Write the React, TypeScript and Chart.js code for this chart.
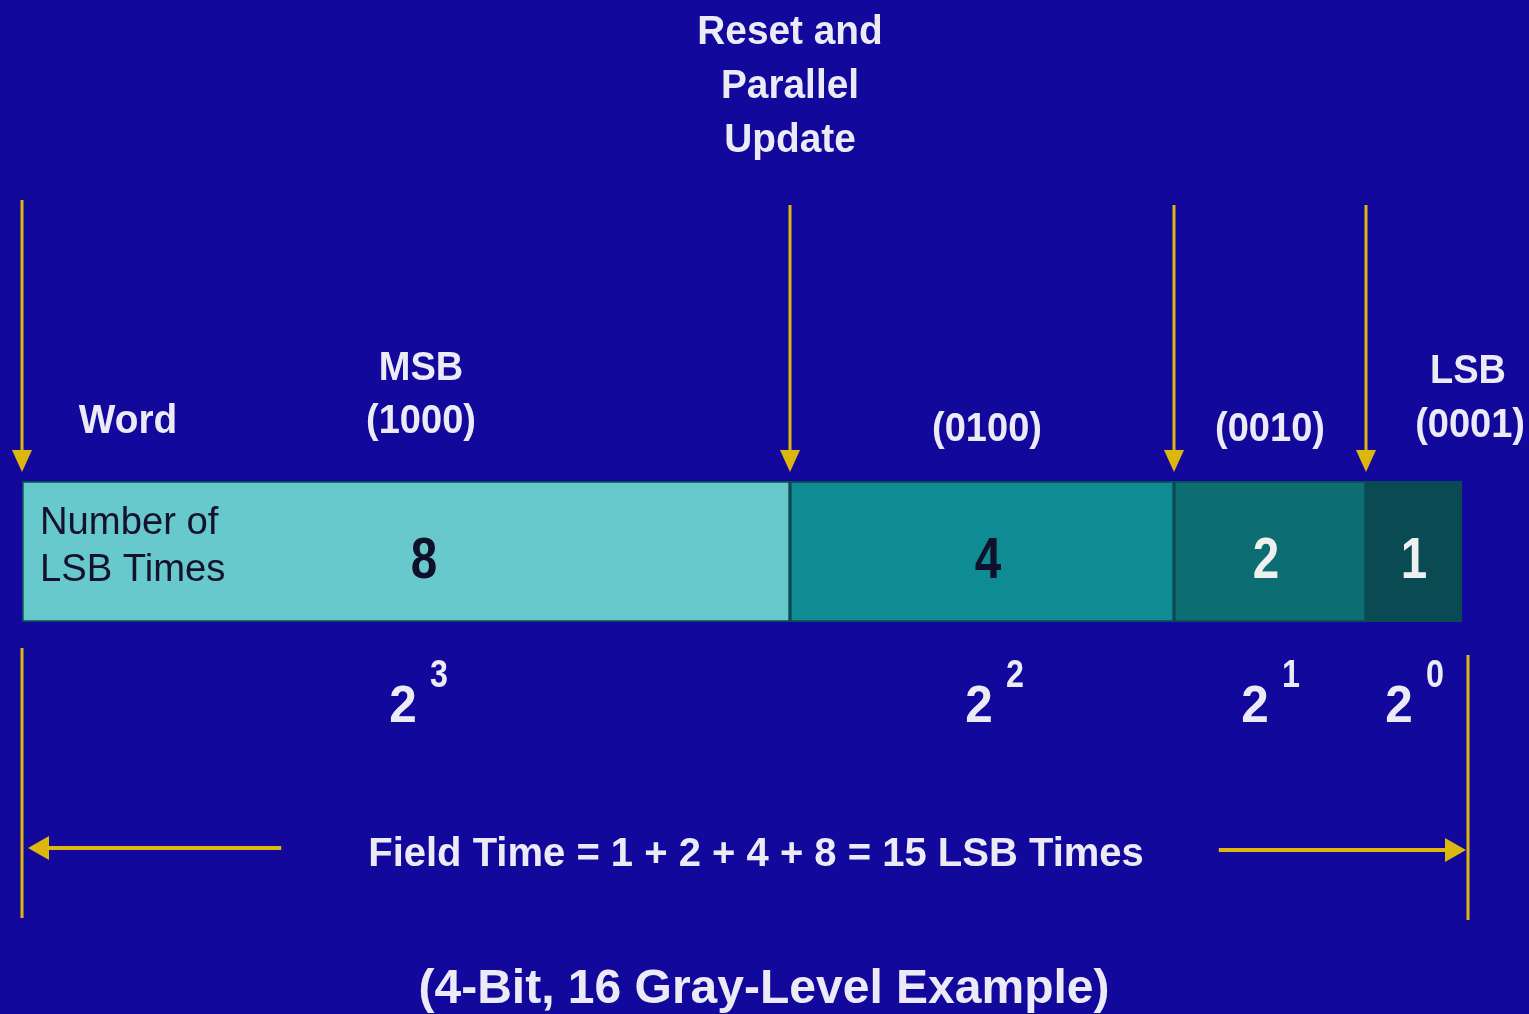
import React, { useEffect, useRef } from "react";
import { Chart, registerables } from "chart.js";

Chart.register(...registerables);

// ---- data ----
const bitWeights = [8, 4, 2, 1];
const bitCodes = ["(1000)", "(0100)", "(0010)", "(0001)"];
const bitTopLabels = ["MSB", "", "", "LSB"];
const bitBase = ["2", "2", "2", "2"];
const bitExponents = ["3", "2", "1", "0"];
const updateMarks = [0, 8, 12, 14];
const titleLines = ["Reset and", "Parallel", "Update"];
const wordLabel = "Word";
const rowLabelLines = ["Number of", "LSB Times"];
const fieldTimeText = "Field Time = 1 + 2 + 4 + 8 = 15 LSB Times";
const footerText = "(4-Bit, 16 Gray-Level Example)";

// ---- styles ----
const W = 1529;
const H = 1014;
const BG = "#13089c";
const segmentColors = ["#68c9cd", "#0f8b93", "#0c6e72", "#0a4a52"];
const valueTextColors = ["#10102a", "#10102a", "#eef0f0", "#eef0f0"];
const ARROW = "#dcb70e";
const WHITE = "#ecebf5";
const FONT = '"Liberation Sans", Arial, Helvetica, sans-serif';

function drawText(
  ctx: CanvasRenderingContext2D,
  text: string,
  x: number,
  y: number,
  font: string,
  color: string,
  align: CanvasTextAlign = "center",
  sx = 1
) {
  ctx.save();
  ctx.font = font;
  ctx.fillStyle = color;
  ctx.textAlign = align;
  ctx.textBaseline = "alphabetic";
  ctx.translate(x, y);
  ctx.scale(sx, 1);
  ctx.fillText(text, 0, 0);
  ctx.restore();
}

function arrowDown(ctx: CanvasRenderingContext2D, x: number, y0: number, tip: number) {
  ctx.save();
  ctx.strokeStyle = ARROW;
  ctx.fillStyle = ARROW;
  ctx.lineWidth = 3;
  ctx.beginPath();
  ctx.moveTo(x, y0);
  ctx.lineTo(x, tip - 18);
  ctx.stroke();
  ctx.beginPath();
  ctx.moveTo(x - 10, tip - 22);
  ctx.lineTo(x + 10, tip - 22);
  ctx.lineTo(x, tip);
  ctx.closePath();
  ctx.fill();
  ctx.restore();
}

function arrowH(ctx: CanvasRenderingContext2D, x0: number, tip: number, y: number) {
  const dir = tip > x0 ? 1 : -1;
  ctx.save();
  ctx.strokeStyle = ARROW;
  ctx.fillStyle = ARROW;
  ctx.lineWidth = 4;
  ctx.beginPath();
  ctx.moveTo(x0, y);
  ctx.lineTo(tip - dir * 18, y);
  ctx.stroke();
  ctx.beginPath();
  ctx.moveTo(tip - dir * 21, y - 12);
  ctx.lineTo(tip - dir * 21, y + 12);
  ctx.lineTo(tip, y);
  ctx.closePath();
  ctx.fill();
  ctx.restore();
}

function vLine(ctx: CanvasRenderingContext2D, x: number, y0: number, y1: number) {
  ctx.save();
  ctx.strokeStyle = ARROW;
  ctx.lineWidth = 3;
  ctx.beginPath();
  ctx.moveTo(x, y0);
  ctx.lineTo(x, y1);
  ctx.stroke();
  ctx.restore();
}

const bgPlugin = {
  id: "bg",
  beforeDraw(chart: any) {
    const ctx = chart.ctx;
    ctx.save();
    ctx.fillStyle = BG;
    ctx.fillRect(0, 0, chart.width, chart.height);
    ctx.restore();
  },
};

const annotPlugin = {
  id: "annot",
  afterDraw(chart: any) {
    const ctx: CanvasRenderingContext2D = chart.ctx;
    const xs = chart.scales.x;
    const { top, bottom } = chart.chartArea;
    const total = bitWeights.reduce((a, b) => a + b, 0);
    const starts: number[] = [];
    let acc = 0;
    bitWeights.forEach((w) => {
      starts.push(acc);
      acc += w;
    });
    const centers = bitWeights.map((w, i) => xs.getPixelForValue(starts[i] + w / 2));
    const x0 = xs.getPixelForValue(0);
    const xEnd = xs.getPixelForValue(total);
    const bold = (s: number) => `bold ${s}px ${FONT}`;

    // Title above first update mark
    const tx = xs.getPixelForValue(bitWeights[0]);
    titleLines.forEach((t, i) => drawText(ctx, t, tx, 44 + i * 54, bold(40), WHITE, "center", 0.97));

    // Down arrows at update marks
    updateMarks.forEach((m, i) => {
      arrowDown(ctx, xs.getPixelForValue(m), i === 0 ? top - 281 : top - 276, top - 9);
    });

    // Word
    drawText(ctx, wordLabel, x0 + 106, top - 48, bold(40), WHITE, "center", 0.97);

    // Code labels and top labels
    bitWeights.forEach((w, i) => {
      const last = i === bitWeights.length - 1;
      const lx = last ? chart.width - 4 : centers[i] + (i === 0 ? 15 : i === 1 ? 5 : 0);
      const align: CanvasTextAlign = last ? "right" : "center";
      const codeY = i === 0 ? top - 48 : last ? top - 44 : top - 40;
      drawText(ctx, bitCodes[i], lx, codeY, bold(40), WHITE, align, 0.95);
      if (bitTopLabels[i]) {
        const labY = i === 0 ? top - 101 : top - 98;
        const ax = last ? lx - 57 : lx;
        drawText(ctx, bitTopLabels[i], ax, labY, bold(40), WHITE, "center", 0.95);
      }
      // values inside the bar
      drawText(ctx, String(w), centers[i] + (i === 0 ? 18 : i === 1 ? 6 : i === 2 ? -4 : 0), top + 97, bold(58), valueTextColors[i], "center", 0.82);
      // powers
      const bx = centers[i] + (i < 2 ? -3 : -15);
      drawText(ctx, bitBase[i], bx, bottom + 100, bold(52), WHITE, "center", 0.95);
      drawText(ctx, bitExponents[i], bx + 36, bottom + 65, bold(38), WHITE, "center", 0.85);
    });

    // Row label inside bar
    drawText(ctx, rowLabelLines[0], x0 + 18, top + 53, `${39}px ${FONT}`, "#14122c", "left", 0.98);
    drawText(ctx, rowLabelLines[1], x0 + 18, top + 100, `${39}px ${FONT}`, "#14122c", "left", 0.98);

    // Bottom vertical lines
    vLine(ctx, x0, bottom + 26, bottom + 296);
    vLine(ctx, xEnd + 6, bottom + 33, bottom + 298);

    // Field time
    const fy = bottom + 226;
    ctx.save();
    ctx.font = bold(40);
    const fw = ctx.measureText(fieldTimeText).width;
    ctx.restore();
    const fcx = (x0 + xEnd) / 2 + 14;
    drawText(ctx, fieldTimeText, fcx, fy + 18, bold(40), WHITE, "center");
    arrowH(ctx, fcx - fw / 2 - 87, x0 + 6, fy);
    arrowH(ctx, fcx + fw / 2 + 75, xEnd + 4, fy + 2);

    // Footer
    drawText(ctx, footerText, fcx + 8, bottom + 381, bold(48), WHITE, "center");
  },
};

export default function App() {
  const ref = useRef<HTMLCanvasElement | null>(null);
  useEffect(() => {
    document.body.style.margin = "0";
    document.body.style.background = BG;
    if (!ref.current) return;
    const chart = new Chart(ref.current, {
      type: "bar",
      data: {
        labels: ["Word"],
        datasets: bitWeights.map((w, i) => ({
          label: bitCodes[i],
          data: [w],
          backgroundColor: segmentColors[i],
          borderColor: "#0b4a52",
          borderWidth: 2,
          borderSkipped: false,
          barPercentage: 1,
          categoryPercentage: 1,
        })),
      },
      options: {
        indexAxis: "y",
        responsive: false,
        animation: false,
        layout: { padding: { left: 22, right: 67, top: 481, bottom: 392 } },
        scales: {
          x: { stacked: true, min: 0, max: 15, display: false },
          y: { stacked: true, display: false },
        },
        plugins: { legend: { display: false }, tooltip: { enabled: false } },
      },
      plugins: [bgPlugin, annotPlugin],
    });
    return () => chart.destroy();
  }, []);
  return (
    <div style={{ width: W, height: H, background: BG }}>
      <canvas ref={ref} width={W} height={H} style={{ display: "block" }} />
    </div>
  );
}
